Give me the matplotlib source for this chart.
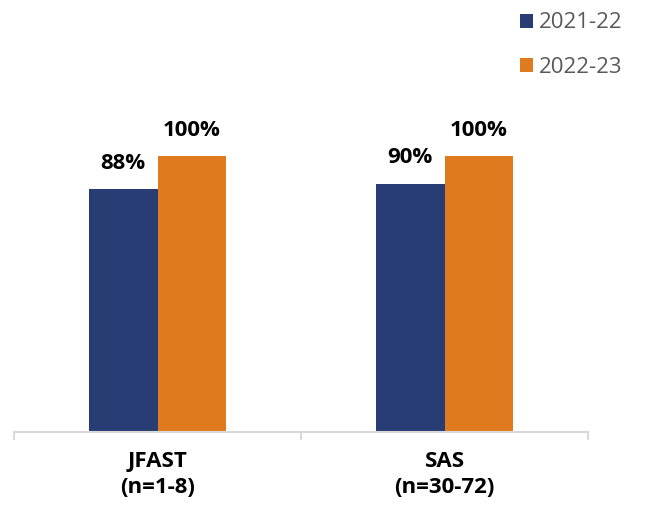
import numpy as np
import matplotlib
matplotlib.use("Agg")
import matplotlib.pyplot as plt

# program completion rates by school year
programs = ["JFAST\n(n=1-8)", "SAS\n(n=30-72)"]
years = ["2021-22", "2022-23"]
rate_2021 = [88, 90]
rate_2022 = [100, 100]

colors = ["#283D73", "#E07A1F"]
plt.rcParams["font.family"] = ["Open Sans", "DejaVu Sans"]

fig = plt.figure(figsize=(6.49, 5.05), dpi=100)
ax = fig.add_axes([0.0216, 0.1446, 0.8844, 0.6554])

x = np.arange(len(programs))
w = 0.24
for i, (vals, lab) in enumerate(zip([rate_2021, rate_2022], years)):
    bars = ax.bar(x + (i - 0.5) * w, vals, width=w, color=colors[i], label=lab)
    for b, v in zip(bars, vals):
        ax.annotate(f"{v}%", (b.get_x() + b.get_width() / 2, v),
                    xytext=(0, 11), textcoords="offset points",
                    ha="center", va="bottom", fontsize=16, fontweight="bold",
                    color="black")

ax.set_xlim(-0.5, len(programs) - 0.5)
ax.set_ylim(0, 120)
for s in ["top", "right", "left"]:
    ax.spines[s].set_visible(False)
ax.spines["bottom"].set_color("#D9D9D9")
ax.spines["bottom"].set_linewidth(1.5)
ax.set_yticks([])

# category boundaries as tick marks, names as minor ticks
ax.set_xticks(np.arange(-0.5, len(programs), 1.0))
ax.set_xticklabels([])
ax.tick_params(axis="x", which="major", length=6, width=1.5, color="#D9D9D9")
ax.set_xticks(x, minor=True)
ax.set_xticklabels(programs, minor=True, fontsize=16, fontweight="bold",
                   linespacing=1.3)
ax.tick_params(axis="x", which="minor", length=0, pad=14)

leg = fig.legend(loc="upper right", bbox_to_anchor=(0.99, 1.015), frameon=False,
                 fontsize=16, handlelength=0.6, handleheight=0.6,
                 handletextpad=0.25, labelspacing=1.05, labelcolor="#595959")

fig.savefig("out.png", dpi=100)
